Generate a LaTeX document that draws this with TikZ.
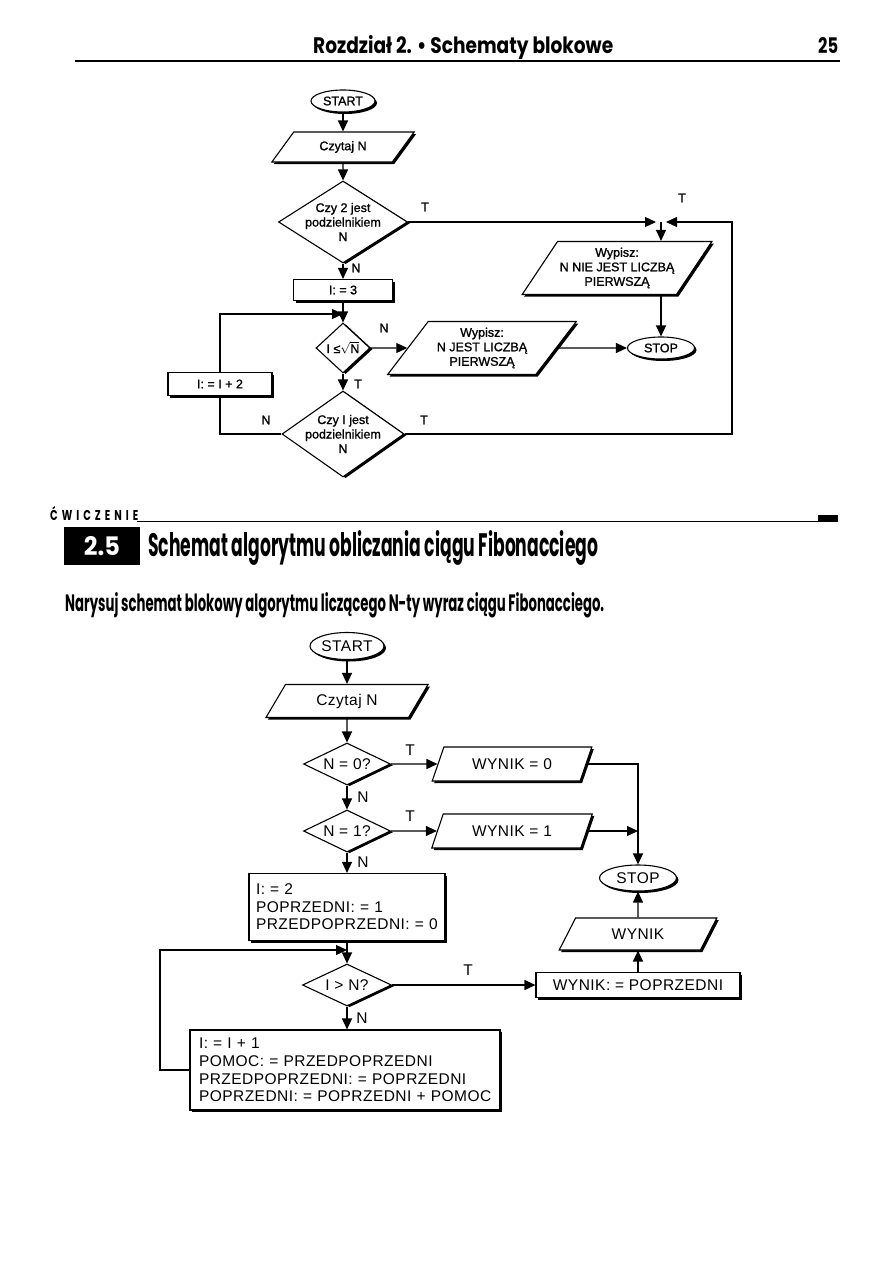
\documentclass[tikz,border=0pt]{standalone}
\usepackage{fontspec}
\usepackage{graphicx}
\setmainfont{Liberation Sans}
\newfontfamily\headfont{Poppins}
\newfontfamily\topfont{Liberation Sans}[FakeBold=1.2]
\newfontfamily\botfont{Liberation Sans}[LetterSpace=3]
\newcommand\topsz{\topfont\fontsize{12.5}{14.5}\selectfont}
\newcommand\botsz{\botfont\fontsize{15.5}{17.6}\selectfont}
\usetikzlibrary{shapes.geometric,shadows,arrows.meta}
\tikzset{
  ln/.style={line width=1.2pt},
  tip/.tip={Triangle[length=11pt,width=10pt]},
  conn/.style={ln,arrows={-tip}},
  shp/.style={draw,line width=1.1pt,fill=white,inner sep=0pt,
     drop shadow={shadow xshift=2pt,shadow yshift=-2pt,fill=black,opacity=1}},
  dshp/.style={draw,line width=1.1pt,fill=white,diamond,inner sep=-14pt,align=center,
     drop shadow={shadow xshift=2.6pt,shadow yshift=-1.2pt,fill=black,opacity=1}},
  term/.style={shp,ellipse},
  io/.style 2 args={shp,trapezium,trapezium stretches=true,
     trapezium left angle=#1,trapezium right angle=#2,align=center},
  proc/.style={shp,rectangle},
  lab/.style={inner sep=0pt},
  hdr/.style={inner sep=0pt,anchor=base west},
}
\begin{document}
\begin{tikzpicture}[x=1pt,y=-1pt]
\path[use as bounding box,fill=white] (0,0) rectangle (893,1263);

% ---------- page header ----------
\node[hdr] (title) at (313,53) {\resizebox{300pt}{18pt}{\headfont\bfseries Rozdział 2. • Schematy blokowe}};
\node[hdr] (pageno) at (818,53) {\resizebox{20pt}{16pt}{\headfont\bfseries 25}};
\draw[line width=1.6pt] (75,61) -- (840,61);

% ---------- top flowchart ----------
\node[term,minimum width=64pt,minimum height=22pt,font=\topsz] (start1) at (343,101) {START};
\node[io={48}{132},minimum width=143pt,minimum height=30pt,font=\topsz] (read1) at (343,147) {Czytaj N};
\node[dshp,minimum width=129pt,minimum height=82pt,font=\topsz] (dec1) at (343,222) {Czy 2 jest\\podzielnikiem\\N};
\node[proc,minimum width=99pt,minimum height=21pt,font=\topsz] (i3) at (343,290) {I: = 3};
\node[dshp,minimum width=54pt,minimum height=50pt,font=\topsz] (dec2) at (343,348) {I ≤$\sqrt{\hbox{N}}$};
\node[dshp,minimum width=122pt,minimum height=86pt,font=\topsz] (dec3) at (343,434) {Czy I jest\\podzielnikiem\\N};
\node[proc,minimum width=104pt,minimum height=23pt,font=\topsz] (inc) at (220,384) {I: = I + 2};
\node[io={50}{130},minimum width=189pt,minimum height=53pt,font=\topsz] (outN) at (482,348) {Wypisz:\\N JEST LICZBĄ\\PIERWSZĄ};
\node[io={50}{130},minimum width=190pt,minimum height=53pt,font=\topsz] (outNIE) at (617,268) {Wypisz:\\N NIE JEST LICZBĄ\\PIERWSZĄ};
\node[term,minimum width=67pt,minimum height=22pt,font=\topsz] (stop1) at (661,348) {STOP};
\coordinate (jT) at (661,222);
\coordinate (rc) at (732,222);
\coordinate (lp) at (343,314);

\draw[conn] (start1) -- (read1);
\draw[conn] (read1) -- (dec1);
\draw[conn] (dec1.east) -- ([xshift=-5pt]jT);
\draw[conn] (dec3.east) -| (rc) -- ([xshift=5pt]jT);
\draw[conn] (jT) -- (jT |- outNIE.north);
\draw[conn] (dec1) -- (i3);
\draw[conn] (i3) -- (dec2);
\draw[conn] (dec2.east) -- (outN.west);
\draw[conn] (outN.east) -- (stop1.west);
\draw[conn] (jT |- outNIE.south) -- (stop1.north);
\draw[conn] (dec2) -- (dec3);
\draw[ln] (dec3.west) -| (inc.south);
\draw[conn] (inc.north) |- (lp);

\node[lab,font=\topsz] (tT1) at (425,207) {T};
\node[lab,font=\topsz] (tT2) at (682,198) {T};
\node[lab,font=\topsz] (tN1) at (356,268) {N};
\node[lab,font=\topsz] (tN2) at (384,328) {N};
\node[lab,font=\topsz] (tT3) at (358,384) {T};
\node[lab,font=\topsz] (tN3) at (266,420) {N};
\node[lab,font=\topsz] (tT4) at (424,420) {T};

% ---------- exercise heading ----------
\node[hdr] (cw) at (50,520) {\resizebox{88pt}{14pt}{\headfont\bfseries\addfontfeature{LetterSpace=40}ĆWICZENIE}};
\draw[line width=0.8pt] (137,521) -- (818,521);
\fill (818,515) rectangle (838,522);
\node[fill=black,minimum width=76pt,minimum height=38pt,inner sep=0pt] (exbox) at (102,546) {\color{white}\resizebox{36pt}{19pt}{\headfont\bfseries 2.5}};
\node[hdr] (extitle) at (148,556) {\resizebox{450pt}{26pt}{\headfont\bfseries Schemat algorytmu obliczania ciągu Fibonacciego}};
\node[hdr] (extask) at (65,611) {\resizebox{539pt}{19pt}{\headfont\bfseries Narysuj schemat blokowy algorytmu liczącego N-ty wyraz ciągu Fibonacciego.}};

% ---------- bottom flowchart ----------
\node[term,minimum width=74pt,minimum height=27pt,font=\botsz] (start2) at (347,646) {START};
\node[io={56}{124},minimum width=163pt,minimum height=33pt,font=\botsz] (read2) at (347,701) {Czytaj N};
\node[dshp,minimum width=87pt,minimum height=42pt,font=\botsz] (d0) at (347,764) {N = 0?};
\node[dshp,minimum width=87pt,minimum height=42pt,font=\botsz] (d1) at (347,831) {N = 1?};
\node[io={58}{122},minimum width=161pt,minimum height=34pt,font=\botsz] (w0) at (512,764) {WYNIK = 0};
\node[io={58}{122},minimum width=161pt,minimum height=34pt,font=\botsz] (w1) at (512,831) {WYNIK = 1};
\node[term,minimum width=77pt,minimum height=26pt,font=\botsz] (stop2) at (638,878) {STOP};
\node[io={57}{123},minimum width=158pt,minimum height=32pt,font=\botsz] (wyn) at (638,934) {WYNIK};
\node[proc,minimum width=204pt,minimum height=25pt,font=\botsz] (wbox) at (638,985) {WYNIK: = POPRZEDNI};
\node[proc,minimum width=196pt,minimum height=67pt,text width=182pt,align=left,font=\botsz] (init) at (347,907) {I: = 2\\POPRZEDNI: = 1\\PRZEDPOPRZEDNI: = 0};
\node[dshp,minimum width=89pt,minimum height=42pt,font=\botsz] (d2) at (347,985) {I > N?};
\node[proc,minimum width=310pt,minimum height=80pt,text width=292pt,align=left,font=\botsz] (loop) at (345,1070) {I: = I + 1\\POMOC: = PRZEDPOPRZEDNI\\PRZEDPOPRZEDNI: = POPRZEDNI\\POPRZEDNI: = POPRZEDNI + POMOC};
\coordinate (lc) at (160,950);
\coordinate (lp2) at (347,950);

\draw[conn] (start2) -- (read2);
\draw[conn] (read2) -- (d0);
\draw[conn] (d0) -- (d1);
\draw[conn] (d0.east) -- (w0.west);
\draw[conn] (d1.east) -- (w1.west);
\draw[conn] (w0.east) -| (stop2.north);
\draw[conn] (w1.east) -- (stop2.north |- w1.east);
\draw[conn] (d1) -- (init);
\draw[conn] (init) -- (d2);
\draw[conn] (d2.east) -- (wbox.west);
\draw[conn] (wbox) -- (wyn);
\draw[conn] (wyn) -- (stop2);
\draw[conn] (d2.south) -- (d2.south |- loop.north);
\draw[conn] (loop.west) -| (lc) -- (lp2);

\node[lab,font=\botsz] (bT1) at (410,750) {T};
\node[lab,font=\botsz] (bN1) at (363,797) {N};
\node[lab,font=\botsz] (bT2) at (410,816) {T};
\node[lab,font=\botsz] (bN2) at (363,862) {N};
\node[lab,font=\botsz] (bT3) at (468,970) {T};
\node[lab,font=\botsz] (bN3) at (362,1018) {N};
\end{tikzpicture}
\end{document}
